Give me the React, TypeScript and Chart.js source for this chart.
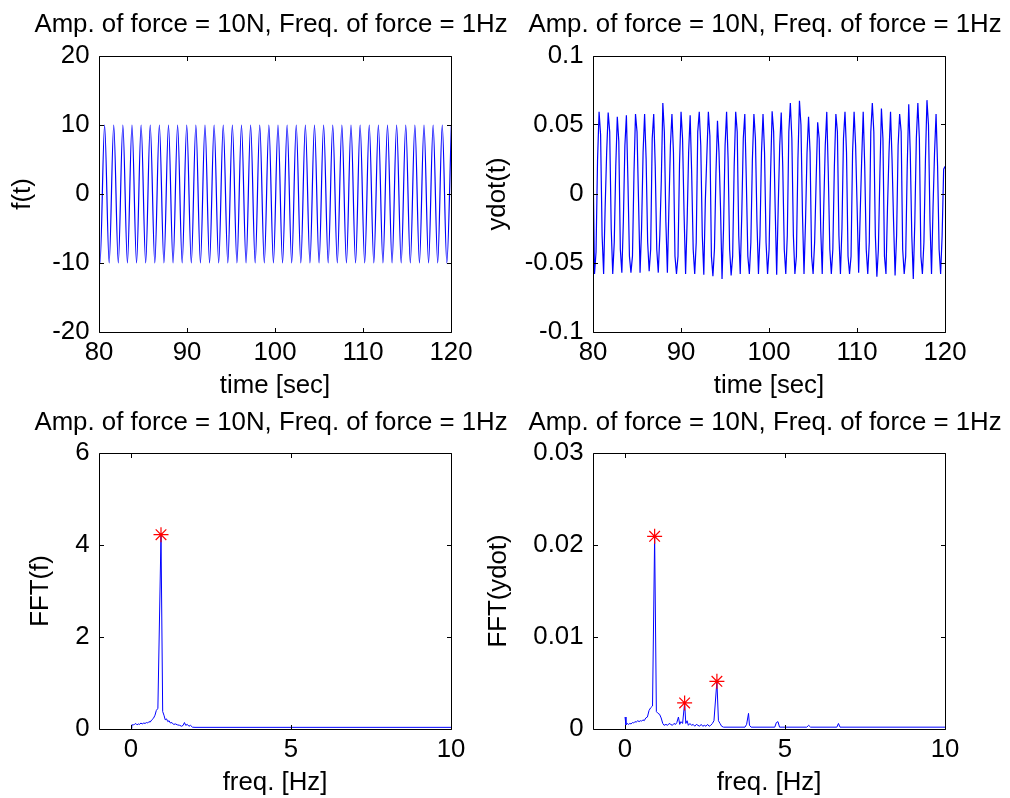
import React, { useEffect, useRef } from 'react';
import { Chart, registerables } from 'chart.js';

Chart.register(...registerables);

const FONT_FAMILY = '"Liberation Sans", Arial, Helvetica, sans-serif';
const FS = 25.8;
const TITLE = 'Amp. of force = 10N, Freq. of force = 1Hz';

// ---------- tick labels ----------
const TIME_TICKS = [80, 90, 100, 110, 120];
const F_TICKS = [-20, -10, 0, 10, 20];
const YDOT_TICKS = [-0.1, -0.05, 0, 0.05, 0.1];
const FREQ_TICKS = [0, 5, 10];
const FFTF_TICKS = [0, 2, 4, 6];
const FFTY_TICKS = [0, 0.01, 0.02, 0.03];

// ---------- f(t): successive extrema (peaks / troughs) ----------
const F_T0 = 79.6; // time of first extremum [s]
const F_HALF = 0.5185; // spacing between extrema [s]
const F_EXT = [
  10, -10, 10, -10, 10, -10, 10, -10, 10, -10,
  10, -10, 10, -10, 10, -10, 10, -10, 10, -10,
  10, -10, 10, -10, 10, -10, 10, -10, 10, -10,
  10, -10, 10, -10, 10, -10, 10, -10, 10, -10,
  10, -10, 10, -10, 10, -10, 10, -10, 10, -10,
  10, -10, 10, -10, 10, -10, 10, -10, 10, -10,
  10, -10, 10, -10, 10, -10, 10, -10, 10, -10,
  10, -10, 10, -10, 10, -10, 10, -10, 10,
];

// ---------- ydot(t): samples ----------
const Y_T0 = 80.0;
const Y_DT = 0.1725;
const YDOT = [
  0.026,
  -0.058, -0.042, 0.025, 0.0595, 0.043, -0.03,
  -0.058, -0.01, 0.03, 0.059, 0.045, -0.025,
  -0.058, -0.035, 0.02, 0.056, 0.038, -0.04,
  -0.057, -0.02, 0.035, 0.057, 0.01, -0.045,
  -0.057, -0.045, 0.015, 0.058, 0.045, -0.005,
  -0.057, -0.025, 0.03, 0.058, 0.025, -0.035,
  -0.056, -0.04, 0.04, 0.058, 0.02, -0.04,
  -0.057, -0.03, 0.01, 0.066, 0.045, -0.02,
  -0.057, -0.01, 0.035, 0.058, 0.03, -0.045,
  -0.058, -0.045, 0.022, 0.0595, 0.04, -0.015,
  -0.058, -0.02, 0.03, 0.057, 0.015, -0.04,
  -0.058, -0.035, 0.045, 0.0595, 0.035, -0.03,
  -0.0585, -0.005, 0.028, 0.0595, 0.042, -0.045,
  -0.0595, -0.04, 0.015, 0.053, 0.03, -0.01,
  -0.0615, -0.025, 0.035, 0.0595, 0.025, -0.04,
  -0.059, -0.045, 0.02, 0.0595, 0.045, -0.03,
  -0.058, -0.015, 0.04, 0.058, 0.01, -0.045,
  -0.058, -0.035, 0.025, 0.058, 0.04, -0.02,
  -0.058, -0.03, 0.03, 0.058, 0.03, -0.035,
  -0.058, -0.04, 0.015, 0.06, 0.045, -0.01,
  -0.0585, -0.01, 0.035, 0.059, 0.02, -0.04,
  -0.058, -0.03, 0.045, 0.066, 0.04, -0.03,
  -0.058, -0.045, 0.025, 0.0675, 0.05, -0.015,
  -0.058, -0.02, 0.03, 0.056, 0.03, -0.045,
  -0.058, -0.035, 0.01, 0.052, 0.04, -0.025,
  -0.058, -0.01, 0.035, 0.0595, 0.015, -0.04,
  -0.058, -0.04, 0.02, 0.058, 0.045, -0.03,
  -0.058, -0.025, 0.04, 0.0595, 0.03, -0.045,
  -0.058, -0.045, 0.03, 0.0595, 0.035, -0.01,
  -0.057, -0.015, 0.025, 0.0595, 0.02, -0.04,
  -0.058, -0.035, 0.045, 0.066, 0.045, -0.03,
  -0.06, -0.04, 0.015, 0.062, 0.04, -0.045,
  -0.058, -0.01, 0.03, 0.0595, 0.025, -0.02,
  -0.059, -0.03, 0.035, 0.058, 0.045, -0.04,
  -0.058, -0.045, 0.02, 0.065, 0.03, -0.03,
  -0.0615, -0.02, 0.04, 0.066, 0.04, -0.045,
  -0.058, -0.035, 0.025, 0.068, 0.05, -0.02,
  -0.058, -0.01, 0.03, 0.058, 0.02, -0.04,
  -0.058, -0.03, 0.018, 0.02,
];

// ---------- FFT(f) ----------
const FFTF_FREQ = [
  0, 0.025, 0.07, 0.11, 0.15, 0.19, 0.23, 0.27, 0.31, 0.35,
  0.4, 0.44, 0.48, 0.52, 0.56, 0.6, 0.65, 0.7, 0.75, 0.79,
  0.84, 0.9375, 0.99, 1.03, 1.07, 1.11, 1.15, 1.19, 1.23, 1.28,
  1.33, 1.39, 1.45, 1.52, 1.58, 1.63, 1.67, 1.71, 1.76, 1.81,
  1.86, 1.92, 2.0, 10,
];
const FFTF_VAL = [
  0.01, 0.09, 0.09, 0.1, 0.12, 0.09, 0.11, 0.1, 0.13, 0.11,
  0.13, 0.12, 0.14, 0.13, 0.16, 0.15, 0.2, 0.23, 0.3, 0.4,
  0.45, 4.225, 0.38, 0.3, 0.2, 0.22, 0.16, 0.18, 0.13, 0.14,
  0.1, 0.11, 0.09, 0.08, 0.06, 0.08, 0.14, 0.08, 0.1, 0.06,
  0.08, 0.04, 0.036, 0.036,
];
const FFTF_PEAK_FREQ = [0.9375];
const FFTF_PEAK_VAL = [4.225];

// ---------- FFT(ydot) ----------
const FFTY_FREQ = [
  0, 0.03, 0.07, 0.11, 0.15, 0.19, 0.23, 0.27, 0.31, 0.35,
  0.4, 0.44, 0.48, 0.52, 0.56, 0.6, 0.65, 0.7, 0.75, 0.8,
  0.86, 0.926, 0.98, 1.03, 1.08, 1.13, 1.18, 1.22, 1.28, 1.33,
  1.38, 1.43, 1.48, 1.53, 1.58, 1.62, 1.67, 1.71, 1.75, 1.8,
  1.863, 1.9, 1.94, 1.98, 2.03, 2.08, 2.13, 2.18, 2.23, 2.28,
  2.33, 2.38, 2.43, 2.48, 2.53, 2.58, 2.63, 2.68, 2.73, 2.78,
  2.872, 2.92, 2.97, 3.02, 3.08, 3.75, 3.8, 3.86, 3.89, 3.94,
  4.68, 4.73, 4.78, 4.83, 5.68, 5.74, 5.8, 6.62, 6.67, 6.72,
  10,
];
const FFTY_VAL = [
  0.0013, 0.00045, 0.0006, 0.0005, 0.0006, 0.00055, 0.0007, 0.00065, 0.0008, 0.00075,
  0.0009, 0.0008, 0.0009, 0.00085, 0.001, 0.0009, 0.0012, 0.0013, 0.002, 0.0023,
  0.0025, 0.02094, 0.0019, 0.0017, 0.0016, 0.0012, 0.0006, 0.0004, 0.0005, 0.0004,
  0.0006, 0.0005, 0.0004, 0.0006, 0.0005, 0.0007, 0.0013, 0.0005, 0.0008, 0.0006,
  0.00283, 0.0006, 0.0009, 0.0004, 0.0006, 0.0004, 0.0005, 0.0003, 0.0005, 0.0004,
  0.0003, 0.0005, 0.0003, 0.0004, 0.0003, 0.0005, 0.0003, 0.0004, 0.0006, 0.0009,
  0.00518, 0.0009, 0.0006, 0.0003, 0.0002, 0.0002, 0.0005, 0.0017, 0.0004, 0.0002,
  0.0002, 0.0007, 0.0008, 0.0002, 0.0002, 0.0004, 0.0002, 0.0002, 0.0006, 0.0002,
  0.0002,
];
const FFTY_PEAK_FREQ = [0.926, 1.863, 2.872];
const FFTY_PEAK_VAL = [0.02094, 0.00283, 0.00518];

// ---------- helpers ----------
const BLUE = '#0000ff';
const RED = '#ff0000';
const TICK_LEN = 4.5;

const framePlugin = {
  id: 'matlabFrame',
  afterDatasetsDraw(chart: any) {
    const { ctx, chartArea: a, scales } = chart;
    const xs = scales.x;
    const ys = scales.y;
    const L = Math.floor(a.left) + 0.5;
    const R = Math.floor(a.right) + 0.5;
    const T = Math.floor(a.top) + 0.5;
    const B = Math.floor(a.bottom) + 0.5;
    ctx.save();
    ctx.strokeStyle = '#000';
    ctx.lineWidth = 1;
    ctx.beginPath();
    ctx.rect(L, T, R - L, B - T);
    for (const t of xs.ticks) {
      const px = Math.floor(xs.getPixelForValue(t.value)) + 0.5;
      ctx.moveTo(px, B);
      ctx.lineTo(px, B - TICK_LEN);
      ctx.moveTo(px, T);
      ctx.lineTo(px, T + TICK_LEN);
    }
    for (const t of ys.ticks) {
      const py = Math.floor(ys.getPixelForValue(t.value)) + 0.5;
      ctx.moveTo(L, py);
      ctx.lineTo(L + TICK_LEN, py);
      ctx.moveTo(R, py);
      ctx.lineTo(R - TICK_LEN, py);
    }
    ctx.stroke();
    ctx.restore();
  },
};

const font = { family: FONT_FAMILY, size: FS, lineHeight: 1.2 };

interface PanelSpec {
  left: number;
  top: number;
  width: number;
  height: number;
  yW: number;
  y2W: number;
  xH: number;
  titlePadTop: number;
  titlePadBottom: number;
  xTickPad: number;
  xTitlePadB: number;
  yTitlePadT: number;
  xMin: number;
  xMax: number;
  xTicks: number[];
  xLabel: string;
  yMin: number;
  yMax: number;
  yTicks: number[];
  yLabel: string;
  datasets: any[];
}

function makeConfig(p: PanelSpec): any {
  return {
    type: 'line',
    data: { datasets: p.datasets },
    options: {
      animation: false,
      responsive: false,
      devicePixelRatio: 1,
      events: [],
      layout: { padding: 0 },
      plugins: {
        legend: { display: false },
        tooltip: { enabled: false },
        title: {
          display: true,
          text: TITLE,
          color: '#000',
          font: { ...font, weight: 'normal' },
          padding: { top: p.titlePadTop, bottom: p.titlePadBottom },
        },
      },
      scales: {
        x: {
          type: 'linear',
          position: 'bottom',
          min: p.xMin,
          max: p.xMax,
          afterBuildTicks: (s: any) => {
            s.ticks = p.xTicks.map((v) => ({ value: v }));
          },
          afterFit: (s: any) => {
            s.height = p.xH;
          },
          ticks: {
            autoSkip: false,
            maxRotation: 0,
            minRotation: 0,
            padding: p.xTickPad,
            color: '#000',
            font,
            callback: (v: any) => String(v),
          },
          grid: { display: false, drawTicks: false },
          border: { display: false },
          title: {
            display: true,
            text: p.xLabel,
            color: '#000',
            font,
            padding: { top: 0, bottom: p.xTitlePadB },
          },
        },
        y: {
          type: 'linear',
          position: 'left',
          min: p.yMin,
          max: p.yMax,
          afterBuildTicks: (s: any) => {
            s.ticks = p.yTicks.map((v) => ({ value: v }));
          },
          afterFit: (s: any) => {
            s.width = p.yW;
          },
          ticks: {
            autoSkip: false,
            padding: 9.5,
            color: '#000',
            font,
            callback: (v: any) => String(v),
          },
          grid: { display: false, drawTicks: false },
          border: { display: false },
          title: {
            display: true,
            text: p.yLabel,
            color: '#000',
            font,
            padding: { top: p.yTitlePadT, bottom: 0 },
          },
        },
        y2: {
          type: 'linear',
          position: 'right',
          min: 0,
          max: 1,
          display: true,
          afterFit: (s: any) => {
            s.width = p.y2W;
          },
          ticks: { display: false },
          grid: { display: false, drawTicks: false },
          border: { display: false },
        },
      },
    },
    plugins: [framePlugin],
  };
}

function lineDataset(points: { x: number; y: number }[], extra: any = {}) {
  return {
    data: points,
    borderColor: BLUE,
    backgroundColor: BLUE,
    borderWidth: 1,
    pointRadius: 0,
    fill: false,
    tension: 0,
    ...extra,
  };
}

function starDataset(points: { x: number; y: number }[]) {
  return {
    data: points,
    showLine: false,
    pointStyle: 'star',
    pointRadius: 7.5,
    pointBorderWidth: 1.2,
    pointBorderColor: RED,
    pointBackgroundColor: RED,
    borderColor: RED,
    backgroundColor: RED,
  };
}

function buildPanels(): PanelSpec[] {
  const fPts = F_EXT.map((v, i) => ({ x: F_T0 + i * F_HALF, y: v }));
  const yPts = YDOT.map((v, i) => ({ x: Y_T0 + i * Y_DT, y: v }));
  const ffPts = FFTF_FREQ.map((f, i) => ({ x: f, y: FFTF_VAL[i] }));
  const ffStars = FFTF_PEAK_FREQ.map((f, i) => ({ x: f, y: FFTF_PEAK_VAL[i] }));
  const fyPts = FFTY_FREQ.map((f, i) => ({ x: f, y: FFTY_VAL[i] }));
  const fyStars = FFTY_PEAK_FREQ.map((f, i) => ({ x: f, y: FFTY_PEAK_VAL[i] }));

  const topRow = {
    top: 0,
    height: 402,
    xH: 70,
    titlePadTop: 8.98,
    titlePadBottom: 16.06,
    xTickPad: 5.1,
    xTitlePadB: 0.46,
  };
  const botRow = {
    top: 398,
    height: 400,
    xH: 69,
    titlePadTop: 9.28,
    titlePadBottom: 14.76,
    xTickPad: 5.9,
    xTitlePadB: 0,
  };
  const leftCol = { left: 0, width: 542, yW: 99, y2W: 91 };
  const rightCol = { left: 470, width: 590, yW: 123, y2W: 115 };

  return [
    {
      ...topRow,
      ...leftCol,
      yTitlePadT: 7.3,
      xMin: 80,
      xMax: 120,
      xTicks: TIME_TICKS,
      xLabel: 'time [sec]',
      yMin: -20,
      yMax: 20,
      yTicks: F_TICKS,
      yLabel: 'f(t)',
      datasets: [lineDataset(fPts, { cubicInterpolationMode: 'monotone', borderWidth: 1.2 })],
    },
    {
      ...topRow,
      ...rightCol,
      yTitlePadT: 12.3,
      xMin: 80,
      xMax: 120,
      xTicks: TIME_TICKS,
      xLabel: 'time [sec]',
      yMin: -0.1,
      yMax: 0.1,
      yTicks: YDOT_TICKS,
      yLabel: 'ydot(t)',
      datasets: [lineDataset(yPts, { borderWidth: 1.2 })],
    },
    {
      ...botRow,
      ...leftCol,
      yTitlePadT: 25.5,
      xMin: -1,
      xMax: 10,
      xTicks: FREQ_TICKS,
      xLabel: 'freq. [Hz]',
      yMin: 0,
      yMax: 6,
      yTicks: FFTF_TICKS,
      yLabel: 'FFT(f)',
      datasets: [starDataset(ffStars), lineDataset(ffPts)],
    },
    {
      ...botRow,
      ...rightCol,
      yTitlePadT: 13.3,
      xMin: -1,
      xMax: 10,
      xTicks: FREQ_TICKS,
      xLabel: 'freq. [Hz]',
      yMin: 0,
      yMax: 0.03,
      yTicks: FFTY_TICKS,
      yLabel: 'FFT(ydot)',
      datasets: [starDataset(fyStars), lineDataset(fyPts)],
    },
  ];
}

function Panel({ spec }: { spec: PanelSpec }) {
  const ref = useRef<HTMLCanvasElement | null>(null);
  useEffect(() => {
    if (!ref.current) return;
    const chart = new Chart(ref.current, makeConfig(spec));
    return () => chart.destroy();
  }, [spec]);
  return (
    <canvas
      ref={ref}
      width={spec.width}
      height={spec.height}
      style={{
        position: 'absolute',
        left: spec.left,
        top: spec.top,
        width: spec.width,
        height: spec.height,
      }}
    />
  );
}

const PANELS = buildPanels();

export default function App() {
  return (
    <div
      style={{
        position: 'fixed',
        left: 0,
        top: 0,
        width: 1010,
        height: 798,
        overflow: 'hidden',
        background: '#ffffff',
      }}
    >
      {PANELS.map((p, i) => (
        <Panel key={i} spec={p} />
      ))}
    </div>
  );
}
